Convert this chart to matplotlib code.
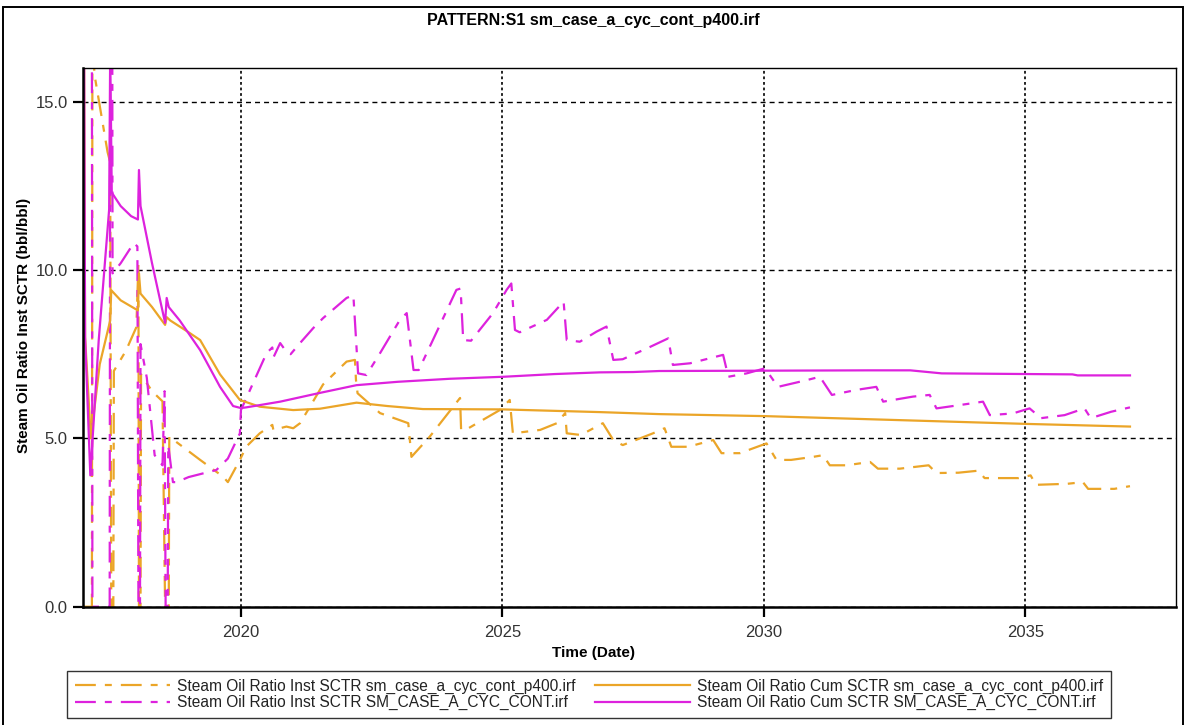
import matplotlib
matplotlib.use("Agg")
import matplotlib.pyplot as plt
from matplotlib import font_manager
from matplotlib.patches import Rectangle
from matplotlib.ticker import FixedLocator, FixedFormatter

# ---------------------------------------------------------------- data
# Steam oil ratio, instantaneous, run p400 (time in decimal years)
p400_inst_t = [2017.000, 2017.150, 2017.160, 2017.200, 2017.450, 2017.500, 2017.520,
               2017.560, 2017.570, 2017.800, 2018.000, 2018.040, 2018.050, 2018.080,
               2018.090, 2018.300, 2018.500, 2018.550, 2018.620, 2018.630, 2019.220,
               2019.660, 2019.750, 2019.980, 2020.100, 2020.360, 2020.600, 2020.620,
               2020.870, 2021.000, 2021.130, 2021.320, 2021.570, 2022.020, 2022.180,
               2022.200, 2022.230, 2022.660, 2023.200, 2023.260, 2023.610, 2024.190,
               2024.210, 2024.350, 2024.950, 2025.140, 2025.200, 2025.720, 2026.040,
               2026.200, 2026.230, 2026.500, 2026.920, 2027.120, 2027.300, 2027.880,
               2028.100, 2028.230, 2028.550, 2029.030, 2029.190, 2029.540, 2030.050,
               2030.240, 2030.520, 2030.940, 2031.130, 2031.260, 2031.580, 2032.030,
               2032.180, 2032.600, 2033.150, 2033.300, 2033.720, 2034.100, 2034.220,
               2034.870, 2035.100, 2035.200, 2035.800, 2036.100, 2036.200, 2036.700,
               2037.000]
p400_inst_v = [0.0, 0.0, 17.0, 15.8, 13.5, 13.2, 0.0,
               0.0, 7.0, 7.6, 8.3, 10.2, 0.0, 0.0,
               6.9, 6.4, 6.1, 0.0, 0.0, 5.05, 4.36,
               3.86, 3.70, 4.36, 4.75, 5.15, 5.40, 5.25,
               5.35, 5.30, 5.45, 5.94, 6.60, 7.28, 7.33,
               6.73, 6.34, 5.75, 5.45, 4.45, 5.05, 6.20,
               5.25, 5.30, 5.84, 6.14, 5.15, 5.25, 5.45,
               5.75, 5.15, 5.10, 5.45, 4.95, 4.80, 5.15,
               5.30, 4.75, 4.75, 4.95, 4.56, 4.56, 4.85,
               4.36, 4.36, 4.45, 4.50, 4.20, 4.20, 4.30,
               4.10, 4.10, 4.20, 3.97, 3.98, 4.04, 3.82,
               3.82, 3.90, 3.62, 3.65, 3.70, 3.50, 3.50,
               3.58]

# Steam oil ratio, cumulative, run p400
p400_cum_t = [2017.000, 2017.020, 2017.130, 2017.300, 2017.500, 2017.520, 2017.700,
              2018.030, 2018.050, 2018.080, 2018.300, 2018.550, 2018.580, 2018.650,
              2019.000, 2019.220, 2019.600, 2019.980, 2020.360, 2021.000, 2021.510,
              2022.210, 2022.800, 2023.480, 2025.000, 2026.860, 2028.000, 2030.030,
              2032.190, 2035.000, 2037.000]
p400_cum_v = [17.0, 8.0, 5.0, 7.2, 8.5, 9.4, 9.1,
              8.8, 9.9, 9.3, 8.9, 8.37, 8.6, 8.5,
              8.15, 7.92, 6.9, 6.14, 5.94, 5.84, 5.88,
              6.06, 5.96, 5.87, 5.86, 5.78, 5.72, 5.66,
              5.56, 5.43, 5.35]

# Steam oil ratio, instantaneous, run SM_CASE_A_CYC_CONT
cont_inst_t = [2017.000, 2017.150, 2017.160, 2017.490, 2017.500, 2017.540, 2017.545,
               2017.700, 2017.950, 2018.020, 2018.040, 2018.070, 2018.080, 2018.200,
               2018.350, 2018.500, 2018.540, 2018.560, 2018.600, 2018.610, 2018.700,
               2018.770, 2019.000, 2019.530, 2019.750, 2019.980, 2020.000, 2020.490,
               2020.600, 2020.620, 2020.750, 2020.870, 2020.950, 2021.130, 2021.380,
               2021.570, 2022.020, 2022.150, 2022.240, 2022.400, 2022.660, 2023.040,
               2023.170, 2023.300, 2023.400, 2023.610, 2024.120, 2024.200, 2024.250,
               2024.400, 2024.820, 2025.080, 2025.170, 2025.240, 2025.330, 2025.850,
               2026.170, 2026.230, 2026.480, 2026.800, 2026.990, 2027.120, 2027.300,
               2027.760, 2028.170, 2028.260, 2028.590, 2029.220, 2029.320, 2029.670,
               2030.020, 2030.270, 2030.820, 2031.070, 2031.300, 2031.770, 2032.150,
               2032.280, 2032.850, 2033.170, 2033.300, 2033.750, 2034.190, 2034.320,
               2034.760, 2035.080, 2035.300, 2035.750, 2036.130, 2036.250, 2036.640,
               2037.000]
cont_inst_v = [17.0, 17.0, 0.0, 0.0, 17.0, 17.0, 9.9,
               10.2, 10.8, 10.7, 0.0, 0.0, 7.8, 6.8,
               4.5, 4.2, 6.4, 0.0, 0.0, 4.8, 3.7,
               3.7, 3.85, 4.06, 4.4, 5.15, 5.84, 7.53,
               7.7, 7.4, 7.83, 7.57, 7.5, 7.83, 8.27,
               8.57, 9.17, 9.25, 6.93, 6.88, 7.53, 8.52,
               8.72, 7.03, 7.03, 7.72, 9.41, 9.45, 7.92,
               7.90, 8.72, 9.41, 9.60, 8.22, 8.15, 8.52,
               9.06, 7.92, 7.87, 8.17, 8.32, 7.33, 7.35,
               7.67, 7.97, 7.18, 7.23, 7.48, 6.83, 6.93,
               7.08, 6.53, 6.73, 6.83, 6.29, 6.44, 6.53,
               6.09, 6.24, 6.29, 5.89, 5.99, 6.09, 5.69,
               5.74, 5.89, 5.60, 5.69, 5.89, 5.60, 5.79,
               5.92]

# Steam oil ratio, cumulative, run SM_CASE_A_CYC_CONT
cont_cum_t = [2017.000, 2017.020, 2017.120, 2017.280, 2017.480, 2017.500, 2017.530,
              2017.700, 2017.900, 2018.030, 2018.050, 2018.080, 2018.300, 2018.550,
              2018.580, 2018.620, 2018.830, 2019.220, 2019.600, 2019.850, 2020.000,
              2020.100, 2020.750, 2021.510, 2022.210, 2023.000, 2024.000, 2025.030,
              2026.000, 2026.860, 2027.500, 2028.000, 2030.000, 2032.000, 2032.800,
              2033.400, 2035.900, 2036.000, 2037.000]
cont_cum_v = [17.0, 8.0, 3.9, 7.9, 11.8, 16.5, 12.3,
              11.9, 11.6, 11.5, 12.97, 11.9, 10.2, 8.43,
              9.17, 8.9, 8.5, 7.62, 6.53, 5.96, 5.90,
              5.92, 6.09, 6.35, 6.58, 6.68, 6.77, 6.83,
              6.91, 6.96, 6.97, 7.00, 7.01, 7.02, 7.02,
              6.93, 6.90, 6.87, 6.87]

x_ticks = [2020, 2025, 2030, 2035]
x_tick_labels = ["2020", "2025", "2030", "2035"]
y_ticks = [0, 5, 10, 15]
y_tick_labels = ["0.0", "5.0", "10.0", "15.0"]

series_labels = [
    "Steam Oil Ratio Inst SCTR sm_case_a_cyc_cont_p400.irf",
    "Steam Oil Ratio Cum SCTR sm_case_a_cyc_cont_p400.irf",
    "Steam Oil Ratio Inst SCTR SM_CASE_A_CYC_CONT.irf",
    "Steam Oil Ratio Cum SCTR SM_CASE_A_CYC_CONT.irf",
]
title_text = "PATTERN:S1 sm_case_a_cyc_cont_p400.irf"
x_title = "Time (Date)"
y_title = "Steam Oil Ratio Inst SCTR (bbl/bbl)"

# ---------------------------------------------------------------- style
ORANGE = "#EBA528"
MAGENTA = "#DD22DD"
INST_DASH = (0, (15, 6.5, 5, 6.5))

plt.rcParams["lines.scale_dashes"] = False


def first_font(*names):
    for name in names:
        try:
            font_manager.findfont(font_manager.FontProperties(family=name),
                                  fallback_to_default=False)
            return name
        except Exception:
            continue
    return "DejaVu Sans"


BASE = first_font("Liberation Sans", "Arial")
NARROW = first_font("Liberation Sans Narrow", "Arial Narrow")
has_narrow = "Narrow" in NARROW
HEAD_FONT = NARROW if has_narrow else BASE
HEAD_SCALE = 1.2 if has_narrow else 1.0
plt.rcParams["font.family"] = [BASE, "DejaVu Sans"]

W, H = 1186, 725
fig = plt.figure(figsize=(W / 100, H / 100), dpi=100)
fig.patch.set_facecolor("white")

ax_l, ax_r, ax_t, ax_b = 83, 1176, 68, 606.7
ax = fig.add_axes([ax_l / W, 1 - ax_b / H, (ax_r - ax_l) / W, (ax_b - ax_t) / H])

lw = 1.6
l1, = ax.plot(p400_inst_t, p400_inst_v, color=ORANGE, lw=lw, linestyle=INST_DASH)
l3, = ax.plot(cont_inst_t, cont_inst_v, color=MAGENTA, lw=lw, linestyle=INST_DASH)
l2, = ax.plot(p400_cum_t, p400_cum_v, color=ORANGE, lw=lw)
l4, = ax.plot(cont_cum_t, cont_cum_v, color=MAGENTA, lw=lw)

ax.set_xlim(2016.98, 2037.88)
ax.set_ylim(0, 16)

ax.xaxis.set_major_locator(FixedLocator(x_ticks))
ax.xaxis.set_major_formatter(FixedFormatter(x_tick_labels))
ax.yaxis.set_major_locator(FixedLocator(y_ticks))
ax.yaxis.set_major_formatter(FixedFormatter(y_tick_labels))

ax.yaxis.grid(True, color="black", lw=1.0, linestyle=(0, (3.6, 2.9)))
ax.xaxis.grid(True, color="black", lw=1.2, linestyle=(0, (2.0, 2.0)))
ax.set_axisbelow(True)

ax.tick_params(axis="both", direction="out", length=7, width=1.6,
               color="black", labelcolor="#333333", labelsize=12)
ax.tick_params(axis="x", pad=6)
ax.tick_params(axis="y", pad=4)

for side in ("left", "bottom"):
    ax.spines[side].set_linewidth(1.8)
for side in ("top", "right"):
    ax.spines[side].set_linewidth(1.0)

# titles
head = dict(fontweight="bold", family=[HEAD_FONT, "DejaVu Sans"])
fig.text(0.5, 1 - 21 / H, title_text, ha="center", va="center",
         fontsize=11.5 * HEAD_SCALE, **head)
fig.text(0.5, 1 - 653 / H, x_title, ha="center", va="center",
         fontsize=11 * HEAD_SCALE, **head)
fig.text(24 / W, 1 - 325 / H, y_title, ha="center", va="center", rotation=90,
         fontsize=11 * HEAD_SCALE, **head)

# legend along the bottom
leg = fig.legend([l1, l3, l2, l4],
                 [series_labels[0], series_labels[2], series_labels[1], series_labels[3]],
                 loc="lower left", ncol=2,
                 bbox_to_anchor=(67 / W, 1 - 718 / H),
                 fontsize=11.2, handlelength=6.1, handletextpad=0.5,
                 borderpad=0.5, labelspacing=0.1, columnspacing=1.2,
                 frameon=True, fancybox=False, borderaxespad=0.0)
leg.get_frame().set_edgecolor("black")
leg.get_frame().set_linewidth(1.0)
for t in leg.get_texts():
    t.set_color("#222222")

# outer frame of the plot window
frame = Rectangle((3 / W, -0.02), (1183 - 3) / W, 1 - 7 / H + 0.02,
                  transform=fig.transFigure, fill=False, lw=1.4,
                  edgecolor="black", clip_on=False)
fig.patches.append(frame)

fig.savefig("out.png", dpi=100, facecolor="white")
